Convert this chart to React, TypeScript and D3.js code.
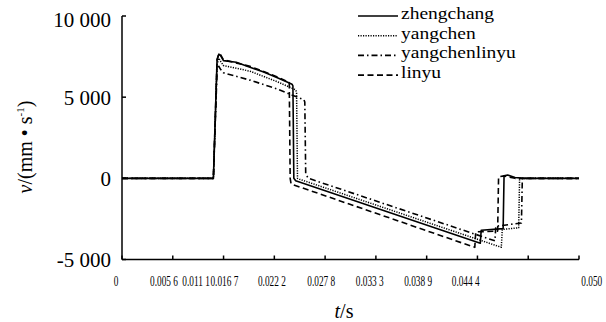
import React from 'react';
import * as d3 from 'd3';

// velocity traces, [t (s), v (mm/s)]
const zhengchang: [number, number][] = [
  [0, 0], [0.01, 0], [0.0104, 7300], [0.0106, 7650], [0.0108, 7550], [0.0111, 7250],
  [0.0125, 7150], [0.014, 6850], [0.0155, 6550], [0.017, 6200], [0.018, 5950],
  [0.0186, 5800], [0.0187, 5700], [0.0188, 0], [0.019, -150], [0.0392, -4000],
  [0.0393, -3200], [0.0417, -3100], [0.0418, 150], [0.0422, 200], [0.043, 50],
  [0.044, 0], [0.05, 0],
];
const yangchen: [number, number][] = [
  [0, 0], [0.01, 0], [0.0104, 7000], [0.0106, 7400], [0.0108, 7200], [0.0111, 6950],
  [0.014, 6600], [0.017, 5950], [0.019, 5450], [0.0191, 5300], [0.0192, 0],
  [0.0194, -50], [0.0415, -4250], [0.0416, -3150], [0.0434, -3050], [0.0435, 0],
  [0.05, 0],
];
const yangchenlinyu: [number, number][] = [
  [0, 0], [0.01, 0], [0.0104, 6600], [0.0106, 6900], [0.0108, 6700], [0.0111, 6500],
  [0.014, 6050], [0.017, 5500], [0.0185, 5150], [0.0199, 4850], [0.02, 4700],
  [0.0201, 250], [0.0204, 0], [0.0408, -3850], [0.0409, -2950], [0.0437, -2750],
  [0.0438, 0], [0.05, 0],
];
const linyu: [number, number][] = [
  [0, 0], [0.01, 0], [0.0104, 7300], [0.0106, 7700], [0.0108, 7600], [0.0111, 7300],
  [0.014, 6900], [0.017, 6250], [0.0183, 5900], [0.0184, 0], [0.0185, -350],
  [0.0386, -4250], [0.0387, -3300], [0.0411, -3250], [0.0412, 100], [0.0418, 150],
  [0.043, 0], [0.05, 0],
];

const seriesNames = ['zhengchang', 'yangchen', 'yangchenlinyu', 'linyu'];
const seriesData = [zhengchang, yangchen, yangchenlinyu, linyu];

const yTicks = [-5000, 0, 5000, 10000];
const yTickLabels = ['-5 000', '0', '5 000', '10 000'];
const xTicks = d3.range(0, 10).map(i => (i * 0.05) / 9);
const xTickLabels = ['0', '0.005 6', '0.011 1', '0.016 7', '0.022 2', '0.027 8', '0.033 3', '0.038 9', '0.044 4', '0.050'];
// where the labels sit in the original (they drift from the ticks)
const xLabelAt = [-0.00066, 0.0046, 0.0081, 0.0112, 0.0164, 0.0218, 0.0271, 0.0324, 0.0376, 0.0514];

const dashes = ['none', '1.2,1.3', '6,3,1.5,3', '6,3.5'];
const font = 'Liberation Serif';

export default function App() {
  const width = 606;
  const height = 322;

  const x = d3.scaleLinear().domain([0, 0.05]).range([122, 579]);
  const y = d3.scaleLinear().domain([-5000, 10000]).range([259.5, 16]);

  const line = d3.line<[number, number]>()
    .x(d => x(d[0]))
    .y(d => y(d[1]));

  const x0 = x(0);
  const yBase = y(-5000);

  return (
    <svg width={width} height={height} style={{ position: 'absolute', left: 0, top: 0, background: '#fff', fontFamily: font }}>
      <rect width={width} height={height} fill="#fff" />

      {/* traces */}
      {seriesData.map((s, i) => (
        <path key={seriesNames[i]} d={line(s) || ''} fill="none" stroke="#000"
          strokeWidth={i === 1 ? 1.5 : 1.6} strokeDasharray={dashes[i]} strokeLinejoin="round" />
      ))}

      {/* axes */}
      <line x1={x0} x2={x0} y1={y(10000)} y2={yBase} stroke="#000" strokeWidth={1.5} />
      <line x1={x0} x2={x(0.05)} y1={yBase} y2={yBase} stroke="#000" strokeWidth={1.5} />
      {yTicks.map((v, i) => (
        <g key={v}>
          <line x1={x0} x2={x0 + 4} y1={y(v)} y2={y(v)} stroke="#000" strokeWidth={1.5} />
          <text x={111} y={Math.max(y(v) + 7.5, 26.5)} textAnchor="end" fontSize={21}
            style={{ fontFamily: font }}>{yTickLabels[i]}</text>
        </g>
      ))}
      {xTicks.map(t => (
        <line key={t} x1={x(t)} x2={x(t)} y1={yBase} y2={yBase - 4} stroke="#000" strokeWidth={1.5} />
      ))}
      {xTickLabels.map((lab, i) => (
        <text key={lab} transform={`translate(${x(xLabelAt[i])},286) scale(0.6,1)`} textAnchor="middle"
          fontSize={15.5} style={{ fontFamily: font }}>{lab}</text>
      ))}

      {/* axis titles */}
      <text x={344} y={318} textAnchor="middle" fontSize={20} style={{ fontFamily: font }}>
        <tspan fontStyle="italic">t</tspan>/s
      </text>
      <text transform="translate(32,147) rotate(-90)" textAnchor="middle" fontSize={20} style={{ fontFamily: font }}>
        <tspan fontStyle="italic">v</tspan>/(mm • s<tspan fontSize={11} dy={-8}>-1</tspan><tspan dy={8}>)</tspan>
      </text>

      {/* legend */}
      {seriesNames.map((n, i) => {
        const by = 19 + i * 19.7;
        return (
          <g key={n}>
            <line x1={358} x2={398} y1={by - 3} y2={by - 3} stroke="#000"
              strokeWidth={1.6} strokeDasharray={dashes[i]} />
            <text transform={`translate(401,${by}) scale(1.22,1)`} fontSize={16}
              style={{ fontFamily: font }}>{n}</text>
          </g>
        );
      })}
    </svg>
  );
}
